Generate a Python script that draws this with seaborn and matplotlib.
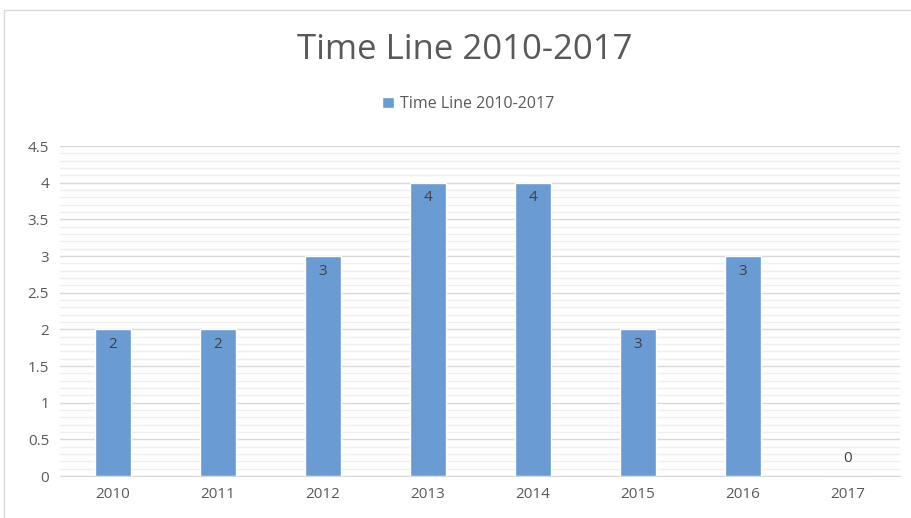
import matplotlib.pyplot as plt
import seaborn as sns
from matplotlib.patches import Rectangle
from matplotlib.ticker import MultipleLocator

# data
years = ['2010', '2011', '2012', '2013', '2014', '2015', '2016', '2017']
counts = [2, 2, 3, 4, 4, 2, 3, 0]
# labels as printed on the bars (2015 shows "3" on a bar of height 2)
bar_labels = ['2', '2', '3', '4', '4', '3', '3', '0']
series_name = 'Time Line 2010-2017'
ytick_vals = [0, 0.5, 1, 1.5, 2, 2.5, 3, 3.5, 4, 4.5]
ytick_labels = ['0', '0.5', '1', '1.5', '2', '2.5', '3', '3.5', '4', '4.5']

bar_color = '#6A9BD2'
text_color = '#595959'

sns.set_style('white')
plt.rcParams['font.family'] = ['Open Sans', 'DejaVu Sans']

fig = plt.figure(figsize=(9.12, 5.18), dpi=100)
ax = fig.add_axes([0.066, 0.081, 0.921, 0.637])

# light frame around the chart area
fig.patches.append(Rectangle((4 / 912, -0.05), 1.1, 1 - 10 / 518 + 0.05,
                             transform=fig.transFigure, fill=False,
                             edgecolor='#d9d9d9', linewidth=1))

sns.barplot(x=years, y=counts, color=bar_color, width=0.34,
            saturation=1, label=series_name, ax=ax, zorder=3)

for i, (v, lab) in enumerate(zip(counts, bar_labels)):
    off = -15 if v > 0 else 18
    ax.annotate(lab, (i, v), xytext=(0, off), textcoords='offset pixels',
                ha='center', va='center', fontsize=11, color='#404040',
                zorder=4)

ax.set_ylim(0, 4.5)
ax.set_xlim(-0.5, 7.5)
ax.yaxis.set_minor_locator(MultipleLocator(0.1))
ax.set_yticks(ytick_vals)
ax.set_yticklabels(ytick_labels)
ax.grid(axis='y', which='major', color='#d9d9d9', linewidth=1, zorder=0)
ax.grid(axis='y', which='minor', color='#efefef', linewidth=1, zorder=0)
ax.set_axisbelow(True)

for s in ['top', 'right', 'left']:
    ax.spines[s].set_visible(False)
ax.spines['bottom'].set_color('#d9d9d9')
ax.tick_params(axis='both', which='both', length=0, labelsize=11,
               labelcolor=text_color, pad=8)
ax.set_xlabel('')
ax.set_ylabel('')

fig.text(0.51, 1 - 50 / 518, series_name, ha='center', va='center',
         fontsize=25, color=text_color)
ax.legend(loc='center', bbox_to_anchor=(0.486, 1.127),
          frameon=False, fontsize=11.5, labelcolor=text_color,
          handlelength=0.75, handleheight=0.75, handletextpad=0.35)

fig.savefig('out.png', dpi=100, facecolor='white')
